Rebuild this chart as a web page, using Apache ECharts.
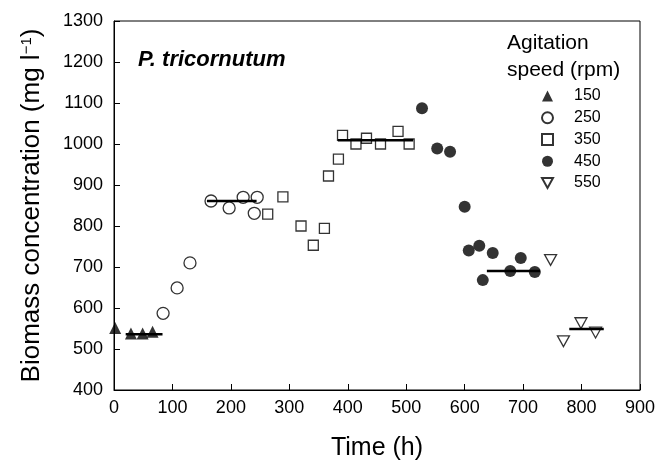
<!DOCTYPE html>
<html>
<head>
<meta charset="utf-8">
<script src="https://cdn.jsdelivr.net/npm/echarts@6/dist/echarts.min.js"></script>
<style>
  html, body { margin: 0; padding: 0; background: #fff; }
  #container { width: 659px; height: 466px; }
</style>
</head>
<body>
<div id="container"></div>
<script>
// agitation speed groups (rpm)
const speeds = ['150', '250', '350', '450', '550'];

// time (h) and biomass (mg/l) for each group
const t150 = [2, 29, 49, 66];
const v150 = [551, 538, 538, 542];
const t250 = [84, 108, 130, 166, 197, 221, 240, 245];
const v250 = [587, 649, 710, 861, 844, 870, 831, 870];
const t350 = [263, 289, 320, 341, 360, 367, 384, 391, 414, 432, 456, 486, 505];
const v350 = [829, 871, 800, 753, 794, 922, 963, 1021, 1000, 1014, 1000, 1031, 1000];
const t450 = [527, 553, 575, 600, 607, 625, 631, 648, 678, 696, 720];
const v450 = [1087, 989, 981, 847, 740, 752, 668, 734, 690, 722, 688];
const t550 = [747, 769, 799, 824];
const v550 = [717, 519, 563, 540];

// steady-state mean lines
const meanStart = [20, 159, 383, 638, 779];
const meanEnd = [83, 244, 512, 729, 838];
const meanValue = [536, 861, 1009, 690, 549];

const font = 'Arial, "Liberation Sans", sans-serif';
const downTri = 'path://M0,0 L20,0 L10,18 Z';

function pairs(t, v) {
    return t.map(function (x, i) { return [x, v[i]]; });
}

const hollow = { color: 'rgba(0,0,0,0)', borderColor: '#000', borderWidth: 1.3 };
const solid = { color: '#000' };

const groups = [
    { t: t150, v: v150, symbol: 'triangle', size: 12, style: solid },
    { t: t250, v: v250, symbol: 'circle', size: 12, style: hollow },
    { t: t350, v: v350, symbol: 'rect', size: 10, style: hollow },
    { t: t450, v: v450, symbol: 'circle', size: 12, style: solid },
    { t: t550, v: v550, symbol: downTri, size: 12, style: hollow }
];

const series = [];
groups.forEach(function (g, i) {
    series.push({
        name: speeds[i],
        type: 'scatter',
        data: pairs(g.t, g.v),
        symbol: g.symbol,
        symbolSize: g.size,
        symbolKeepAspect: true,
        itemStyle: g.style,
        z: 3
    });
});
meanValue.forEach(function (m, i) {
    series.push({
        name: 'mean' + speeds[i],
        type: 'line',
        data: [[meanStart[i], m], [meanEnd[i], m]],
        showSymbol: false,
        symbol: 'none',
        lineStyle: { color: '#000', width: 2.5 },
        z: 4,
        silent: true
    });
});

const myChart = echarts.init(document.getElementById('container'));
const option = {
    animation: false,
    backgroundColor: '#fff',
    textStyle: { fontFamily: font, color: '#000' },
    title: [{
        text: 'P. tricornutum',
        left: 133,
        top: 44,
        textStyle: { fontFamily: font, fontSize: 22, fontWeight: 'bold', fontStyle: 'italic', color: '#000' }
    }, {
        text: 'Agitation\nspeed (rpm)',
        left: 502,
        top: 25,
        textStyle: { fontFamily: font, fontSize: 21, fontWeight: 'normal', color: '#000', lineHeight: 27 }
    }],
    legend: {
        data: speeds.map(function (s, i) {
            return { name: s, icon: groups[i].symbol };
        }),
        orient: 'vertical',
        left: 541,
        top: 88,
        padding: 0,
        itemWidth: 11,
        itemHeight: 11,
        itemGap: 5.75,
        selectedMode: false,
        formatter: '{a|{name}}',
        textStyle: {
            fontFamily: font,
            fontSize: 16,
            lineHeight: 16,
            color: '#000',
            rich: { a: { fontFamily: font, fontSize: 16, lineHeight: 16, color: '#000', padding: [0, 0, 0, 16] } }
        }
    },
    grid: {
        left: 114,
        right: 19,
        top: 21,
        bottom: 76,
        show: true,
        borderColor: '#000',
        borderWidth: 1
    },
    xAxis: {
        type: 'value',
        min: 0,
        max: 900,
        interval: 100,
        name: 'Time (h)',
        nameLocation: 'middle',
        nameGap: 46,
        nameTextStyle: { fontFamily: font, fontSize: 25, color: '#000' },
        axisLine: { lineStyle: { color: '#000', width: 1 } },
        axisTick: { inside: true, length: 6, lineStyle: { color: '#000' } },
        axisLabel: { fontFamily: font, fontSize: 18, color: '#000', margin: 9 },
        splitLine: { show: false }
    },
    yAxis: {
        type: 'value',
        min: 400,
        max: 1300,
        interval: 100,
        name: 'Biomass concentration (mg l{sup|−1})',
        nameLocation: 'middle',
        nameGap: 69,
        nameTextStyle: {
            fontFamily: font, fontSize: 26, color: '#000',
            rich: { sup: { fontFamily: font, fontSize: 15, color: '#000', verticalAlign: 'top', padding: [0, 0, 10, 0] } }
        },
        axisLine: { lineStyle: { color: '#000', width: 1 } },
        axisTick: { inside: true, length: 6, lineStyle: { color: '#000' } },
        axisLabel: {
            fontFamily: font, fontSize: 18, color: '#000', margin: 11,
            formatter: function (v) { return String(v); }
        },
        splitLine: { show: false }
    },
    series: series
};
myChart.setOption(option);
</script>
</body>
</html>
